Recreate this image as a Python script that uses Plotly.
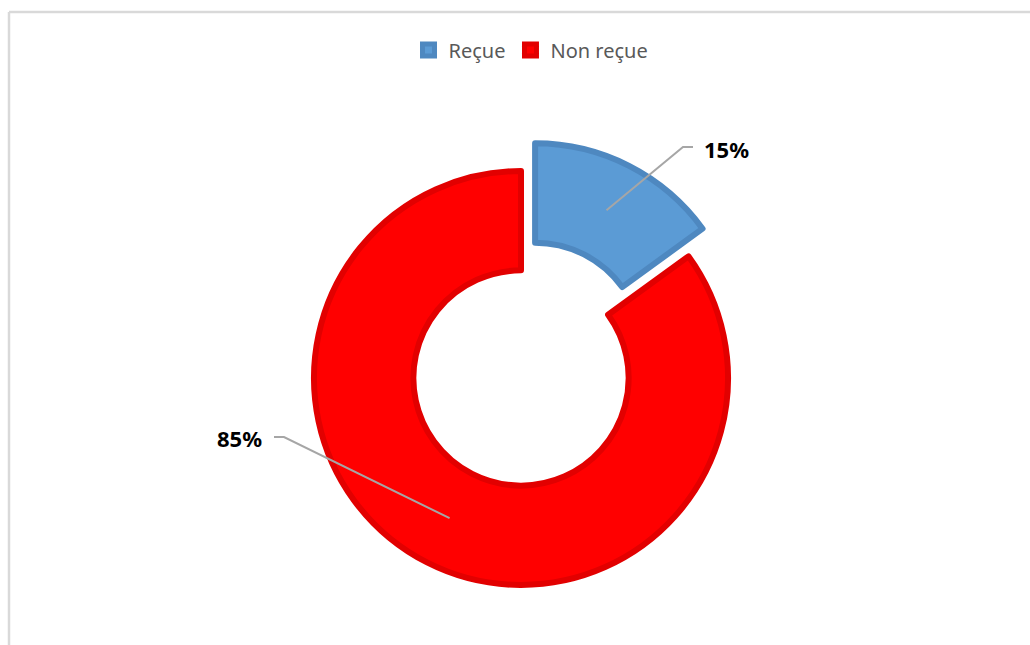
import math
import plotly.graph_objects as go

# ---- data ----
labels = ["Reçue", "Non reçue"]
values = [15, 85]
pulls = [0.15, 0.0]

# ---- style / layout ----
W, H = 1030, 645
fill_colors = ["#5B9BD5", "#FF0000"]
line_colors = ["#4E88C0", "#E20000"]
CX, CY, R = 521, 378, 207  # pie center & radius in pixels
HOLE = 0.52

max_pull = max(pulls)
half = R * (1 + max_pull)
dom_x = [(CX - half) / W, (CX + half) / W]
dom_y = [1 - (CY + half) / H, 1 - (CY - half) / H]

fig = go.Figure(go.Pie(
    labels=labels,
    values=values,
    hole=HOLE,
    pull=pulls,
    sort=False,
    direction="clockwise",
    rotation=0,
    marker=dict(colors=fill_colors, line=dict(color=line_colors, width=6)),
    textinfo="none",
    hoverinfo="label+percent",
    domain=dict(x=dom_x, y=dom_y),
))

# label anchors computed from data (mid-angle of each slice, mid-ring radius)
total = sum(values)
label_pos = [(726, 149, "right"), (239, 438, "left")]  # label text centers (px)
shapes = []
annotations = []
start = 0.0
for i, v in enumerate(values):
    frac = v / total
    mid = (start + frac / 2) * 2 * math.pi
    start += frac
    dx = math.sin(mid)
    dy = -math.cos(mid)
    pcx = CX + pulls[i] * R * dx
    pcy = CY + pulls[i] * R * dy
    rm = R * (1 + HOLE) / 2
    ax_, ay_ = pcx + rm * dx, pcy + rm * dy
    tx, ty, side = label_pos[i]
    pct = f"{round(frac * 100)}%"
    if side == "right":
        e1 = (tx - 43, ty - 2)
        e2 = (tx - 33, ty - 2)
    else:
        e1 = (tx + 45, ty - 1)
        e2 = (tx + 35, ty - 1)
    def P(x, y):
        return f"{x / W:.5f},{1 - y / H:.5f}"
    path = f"M {P(ax_, ay_)} L {P(*e1)} L {P(*e2)}"
    shapes.append(dict(type="path", xref="paper", yref="paper", path=path,
                       line=dict(color="#A6A6A6", width=2)))
    annotations.append(dict(x=tx / W, y=1 - ty / H, xref="paper", yref="paper",
                            text=f"<b>{pct}</b>", showarrow=False,
                            font=dict(family="Noto Sans", size=22, color="#000000"),
                            xanchor="center", yanchor="middle"))

# chart border (top and left visible)
shapes.append(dict(type="line", xref="paper", yref="paper",
                   x0=9 / W, x1=1.0, y0=1 - 12 / H, y1=1 - 12 / H,
                   line=dict(color="#D9D9D9", width=2.5)))
shapes.append(dict(type="line", xref="paper", yref="paper",
                   x0=9 / W, x1=9 / W, y0=0, y1=1 - 12 / H,
                   line=dict(color="#D9D9D9", width=2.5)))

fig.update_layout(
    width=W, height=H,
    margin=dict(l=0, r=0, t=0, b=0),
    paper_bgcolor="white",
    plot_bgcolor="white",
    showlegend=True,
    legend=dict(orientation="h", x=(531 / W), xanchor="center", y=1 - 50 / H, yanchor="middle",
                font=dict(family="Noto Sans", size=20, color="#595959"),
                itemwidth=30, traceorder="normal"),
    shapes=shapes,
    annotations=annotations,
)

fig.write_html("out.html")
